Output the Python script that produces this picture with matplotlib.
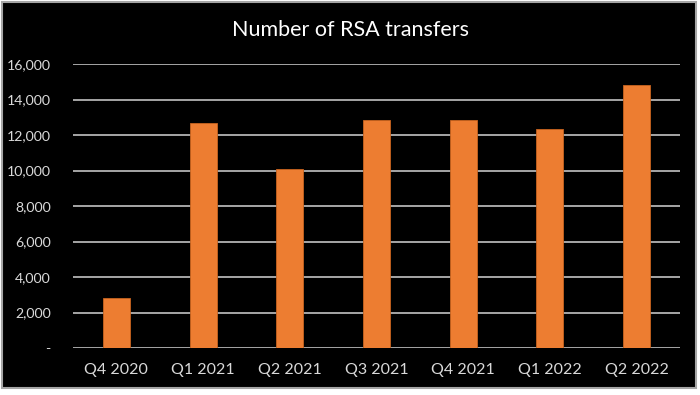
import matplotlib
matplotlib.use('Agg')
import matplotlib.pyplot as plt
from matplotlib.patches import Rectangle
from matplotlib.ticker import FuncFormatter
import numpy as np

quarters = ['Q4 2020', 'Q1 2021', 'Q2 2021', 'Q3 2021', 'Q4 2021', 'Q1 2022', 'Q2 2022']
transfers = [2820, 12660, 10090, 12870, 12870, 12320, 14800]
yticks = [0, 2000, 4000, 6000, 8000, 10000, 12000, 14000, 16000]

ORANGE = '#ED7D31'
TXT = '#D9D9D9'
GRID = '#A6A6A6'

plt.rcParams['font.family'] = ['Lato', 'DejaVu Sans']

fig = plt.figure(figsize=(7.0, 3.95), dpi=100, facecolor='white')
# black chart area with grey frame
fig.add_artist(Rectangle((2 / 700, 7 / 395), 694 / 700, 386 / 395, transform=fig.transFigure,
                         facecolor='black', edgecolor=GRID, lw=1.5, zorder=0))

ax = fig.add_axes([73 / 700, 47 / 395, 607 / 700, 284 / 395])
ax.set_facecolor('none')
x = np.arange(len(quarters))
ax.bar(x, transfers, width=0.31, color=ORANGE, edgecolor='#C8641F', lw=0.6, zorder=3)

ax.set_xlim(-0.5, len(quarters) - 0.5)
ax.set_ylim(0, 16000)
ax.set_yticks(yticks)
ax.yaxis.set_major_formatter(FuncFormatter(lambda v, p: '-' if v == 0 else f'{int(v):,}'))
ax.set_xticks(x, quarters)
ax.grid(axis='y', color=GRID, lw=1.4, zorder=0)
ax.set_axisbelow(True)
for sp in ax.spines.values():
    sp.set_visible(False)
ax.tick_params(length=0, colors=TXT)
ax.tick_params(axis='y', pad=16, labelsize=10.2)
ax.tick_params(axis='x', pad=11, labelsize=11.5)
for lab in ax.get_yticklabels():
    lab.set_horizontalalignment('right')

fig.text(0.5, 1 - 30 / 395, 'Number of RSA transfers', ha='center', va='center',
         color='white', fontsize=15.5)

fig.savefig('out.png', dpi=100, facecolor='white')
